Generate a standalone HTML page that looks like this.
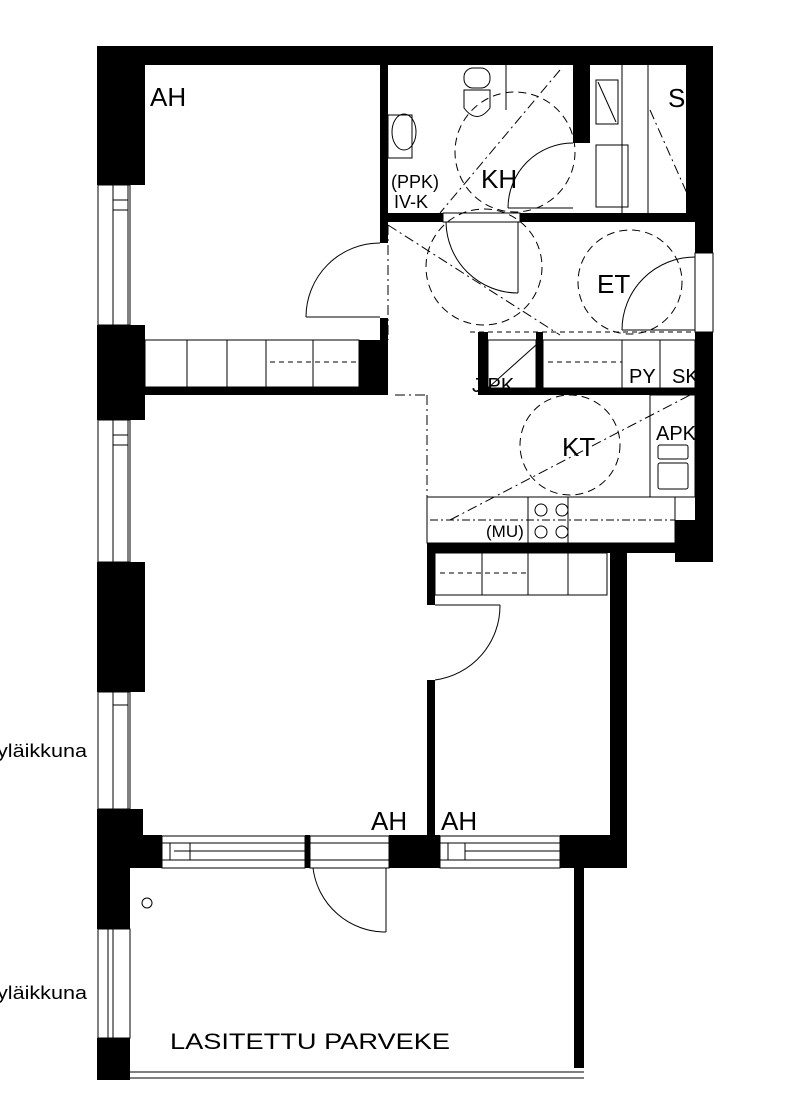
<!DOCTYPE html>
<html><head><meta charset="utf-8"><style>
html,body{margin:0;padding:0;background:#fff;}
svg{display:block;}
text{font-family:"Liberation Sans",sans-serif;fill:#000;}
</style></head><body>
<svg width="811" height="1099" viewBox="0 0 811 1099" xmlns="http://www.w3.org/2000/svg">
<g fill="#000">
<rect x="97" y="46" width="616" height="19"/>
<rect x="97" y="46" width="48" height="139"/>
<rect x="97" y="325" width="48" height="95"/>
<rect x="97" y="562" width="48" height="130"/>
<rect x="97" y="809" width="46" height="59"/>
<rect x="97" y="868" width="33" height="61"/>
<rect x="143" y="835" width="19" height="33"/>
<rect x="97" y="1038" width="33" height="42"/>
<rect x="380" y="65" width="8" height="178"/>
<rect x="380" y="318" width="8" height="22"/>
<rect x="359" y="340" width="29" height="53"/>
<rect x="145" y="387" width="243" height="8"/>
<rect x="388" y="213" width="55" height="9"/>
<rect x="520" y="213" width="193" height="9"/>
<rect x="573" y="65" width="17" height="78"/>
<rect x="686" y="46" width="27" height="176"/>
<rect x="695" y="222" width="18" height="31"/>
<rect x="695" y="332" width="18" height="230"/>
<rect x="478" y="332" width="10" height="62"/>
<rect x="536" y="332" width="7" height="62"/>
<rect x="478" y="388" width="235" height="7"/>
<rect x="427" y="543" width="286" height="10"/>
<rect x="675" y="520" width="38" height="42"/>
<rect x="427" y="543" width="8" height="62"/>
<rect x="427" y="680" width="8" height="160"/>
<rect x="610" y="553" width="17" height="315"/>
<rect x="389" y="835" width="51" height="33"/>
<rect x="560" y="835" width="67" height="33"/>
<rect x="305" y="835" width="5" height="33"/>
<rect x="574" y="868" width="10" height="200"/>
</g>
<g fill="none" stroke="#000" stroke-width="1">
<rect x="98" y="185" width="32" height="140"/><line x1="113" y1="185" x2="113" y2="325"/><line x1="128" y1="185" x2="128" y2="325"/><line x1="113" y1="200" x2="128" y2="200"/><line x1="113" y1="210" x2="128" y2="210"/>
<rect x="98" y="420" width="32" height="142"/><line x1="113" y1="420" x2="113" y2="562"/><line x1="128" y1="420" x2="128" y2="562"/><line x1="113" y1="435" x2="128" y2="435"/><line x1="113" y1="445" x2="128" y2="445"/>
<rect x="98" y="692" width="32" height="117"/><line x1="113" y1="692" x2="113" y2="809"/><line x1="128" y1="692" x2="128" y2="809"/><line x1="113" y1="705" x2="128" y2="705"/>
<rect x="98" y="929" width="32" height="109"/><line x1="108" y1="929" x2="108" y2="1038"/><line x1="113" y1="929" x2="113" y2="1038"/>
<rect x="162" y="836" width="143" height="32"/><line x1="162" y1="843" x2="305" y2="843"/><line x1="162" y1="860" x2="305" y2="860"/><line x1="190" y1="843" x2="190" y2="860"/><line x1="174" y1="851" x2="305" y2="851"/><line x1="170" y1="843" x2="170" y2="860"/>
<rect x="310" y="836" width="79" height="32"/><line x1="310" y1="843" x2="389" y2="843"/><line x1="310" y1="860" x2="389" y2="860"/>
<rect x="440" y="836" width="120" height="32"/><line x1="440" y1="843" x2="560" y2="843"/><line x1="440" y1="860" x2="560" y2="860"/><line x1="465" y1="843" x2="465" y2="860"/><line x1="448" y1="843" x2="448" y2="860"/><line x1="465" y1="851" x2="560" y2="851"/>
<line x1="130" y1="1072" x2="584" y2="1072"/><line x1="130" y1="1078" x2="584" y2="1078"/>
<circle cx="147" cy="903" r="5"/>
<line x1="386" y1="868" x2="386" y2="932"/><path d="M313,868 A73,73 0 0 0 386,932"/>
<line x1="306" y1="317" x2="380" y2="317"/><path d="M306,317 A74,74 0 0 1 380,243"/>
<rect x="145" y="340" width="214" height="47"/>
<line x1="187" y1="340" x2="187" y2="387"/><line x1="227" y1="340" x2="227" y2="387"/><line x1="266" y1="340" x2="266" y2="387"/><line x1="313" y1="340" x2="313" y2="387"/>
<line x1="270" y1="362" x2="359" y2="362" stroke-dasharray="5,4"/>
<line x1="518" y1="222" x2="518" y2="293"/><path d="M446,222 A72,72 0 0 0 518,293"/>
<rect x="443" y="213" width="77" height="9"/>
<line x1="622" y1="330" x2="695" y2="330"/><path d="M622,330 A73,73 0 0 1 695,257"/>
<rect x="695" y="253" width="18" height="79"/>
<line x1="508" y1="208" x2="573" y2="208"/><path d="M508,208 A65,65 0 0 1 573,143"/>
<rect x="488" y="340" width="48" height="48"/><line x1="488" y1="388" x2="536" y2="345"/>
<rect x="543" y="340" width="152" height="48"/><line x1="622" y1="340" x2="622" y2="388"/><line x1="660" y1="340" x2="660" y2="388"/>
<line x1="548" y1="362" x2="622" y2="362" stroke-dasharray="5,4"/>
<line x1="470" y1="332" x2="695" y2="332" stroke-dasharray="5,4"/>
<rect x="427" y="497" width="248" height="46"/>
<rect x="650" y="395" width="45" height="102"/>
<rect x="528" y="497" width="40" height="46"/>
<rect x="658" y="445" width="30" height="14" rx="2"/><rect x="658" y="463" width="30" height="26" rx="2"/>
<circle cx="541" cy="510" r="6"/><circle cx="541" cy="532" r="6"/><circle cx="562" cy="510" r="6"/><circle cx="562" cy="532" r="6"/>
<line x1="430" y1="520" x2="675" y2="520" stroke-dasharray="8,3,2,3"/>
<rect x="435" y="553" width="172" height="42"/>
<line x1="482" y1="553" x2="482" y2="595"/><line x1="528" y1="553" x2="528" y2="595"/><line x1="568" y1="553" x2="568" y2="595"/>
<line x1="440" y1="573" x2="528" y2="573" stroke-dasharray="5,4"/>
<line x1="435" y1="605" x2="500" y2="605"/><path d="M500,605 A75,75 0 0 1 435,680"/>
<rect x="464" y="68" width="26" height="20" rx="9"/><path d="M464,90 L464,108 Q477,125 490,108 L490,90 Z"/>
<rect x="388" y="115" width="24" height="43"/><ellipse cx="404" cy="132" rx="12" ry="18"/>
<line x1="506" y1="65" x2="506" y2="110"/>
<rect x="596" y="80" width="22" height="44"/><line x1="598" y1="82" x2="616" y2="122"/>
<rect x="596" y="145" width="32" height="62"/>
<line x1="622" y1="65" x2="622" y2="213"/><line x1="648" y1="65" x2="648" y2="213"/>
<g stroke-dasharray="8,5">
<circle cx="515" cy="152" r="60"/>
<circle cx="484" cy="267" r="58"/>
<circle cx="630" cy="282" r="52"/>
<circle cx="570" cy="445" r="50"/>
</g>
<g stroke-dasharray="10,4,2,4">
<line x1="388" y1="225" x2="388" y2="340"/>
<line x1="395" y1="395" x2="427" y2="395"/><line x1="427" y1="395" x2="427" y2="497"/>
<line x1="388" y1="225" x2="560" y2="335"/><line x1="450" y1="520" x2="690" y2="395"/>
<line x1="560" y1="70" x2="440" y2="213"/><line x1="650" y1="110" x2="690" y2="200"/>
</g>
</g>
<g font-size="26">
<text x="150" y="106">AH</text>
<text x="668" y="107">S</text>
<text x="481" y="188">KH</text>
<text x="597" y="293">ET</text>
<text x="562" y="456">KT</text>
<text x="371" y="830">AH</text>
<text x="441" y="830">AH</text>
<text x="170" y="1049" font-size="22" textLength="280" lengthAdjust="spacingAndGlyphs">LASITETTU PARVEKE</text>
</g>
<g font-size="20">
<text x="-3" y="757" font-size="18" textLength="90" lengthAdjust="spacingAndGlyphs">yläikkuna</text>
<text x="-3" y="999" font-size="18" textLength="90" lengthAdjust="spacingAndGlyphs">yläikkuna</text>
<text x="629" y="383">PY</text><text x="672" y="383">SK</text>
<text x="472" y="392">J/PK</text>
<text x="656" y="440">APK</text>
<text x="486" y="537" font-size="17">(MU)</text>
<text x="391" y="188" font-size="18">(PPK)</text>
<text x="394" y="208" font-size="18">IV-K</text>
</g>
</svg>
</body></html>
